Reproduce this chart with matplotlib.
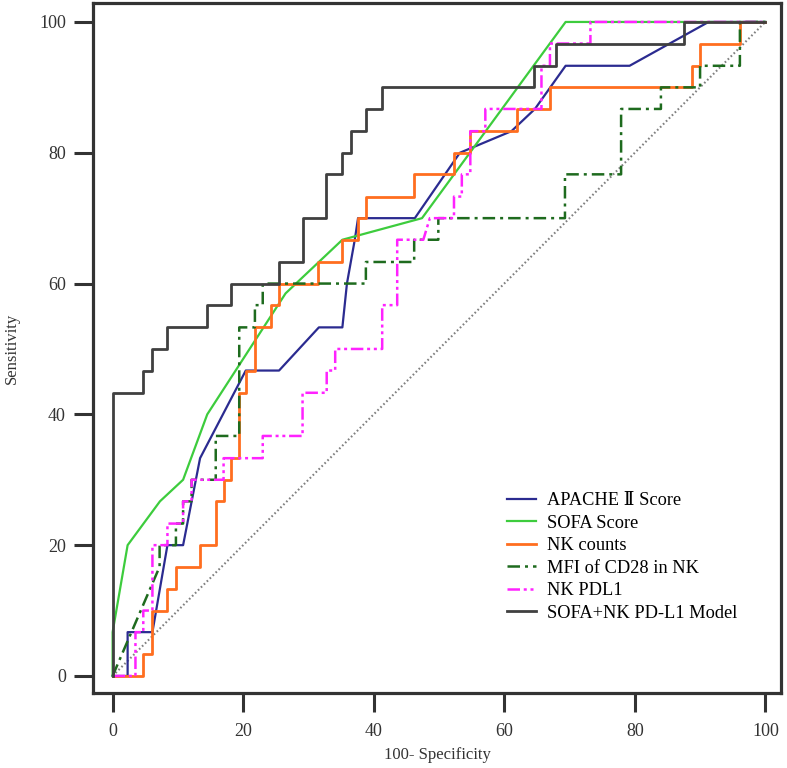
import matplotlib
matplotlib.use("Agg")
import matplotlib.pyplot as plt

plt.rcParams['font.family'] = ['Liberation Serif', 'DejaVu Serif', 'DejaVu Sans']

# ROC curves, x = 100 - specificity, y = sensitivity (vertices)
apache_x = [0, 2.3, 2.3, 6.1, 8.4, 10.8, 13.4, 20.4, 25.5, 31.6, 35.2, 35.9, 37.1, 37.6,
            46.3, 53.2, 61.1, 64.7, 69.4, 79.2, 91.3, 100]
apache_y = [0, 0, 6.7, 6.7, 20, 20, 33.3, 46.7, 46.7, 53.3, 53.3, 60, 66.7, 70,
            70, 80, 83.3, 86.7, 93.3, 93.3, 100, 100]

sofa_x = [0, 0, 2.3, 7.25, 10.8, 14.5, 26.5, 35.2, 47.4, 69.4, 100]
sofa_y = [0, 6.7, 20, 26.7, 30, 40, 58.5, 66.7, 70, 100, 100]

# step curves: (x where the jump happens, new sensitivity)
nk_x = [0, 4.7, 6.1, 8.4, 9.7, 13.4, 15.8, 17.0, 18.2, 19.4, 20.5, 21.8, 24.3, 25.5,
        31.5, 35.2, 37.6, 38.8, 46.2, 52.3, 54.8, 62.0, 67.0, 88.8, 90.0, 96.1, 100]
nk_y = [0, 3.3, 10, 13.3, 16.7, 20, 26.7, 30, 33.3, 43.3, 46.7, 53.3, 56.7, 60,
        63.3, 66.7, 70, 73.3, 76.7, 80, 83.3, 86.7, 90, 93.3, 96.7, 100, 100]

cd28_x = [0, 7.2, 7.2, 9.7, 9.7, 10.8, 10.8, 12.1, 12.1, 15.8, 15.8, 19.4, 19.4, 21.8,
          21.8, 23.0, 23.0, 38.8, 38.8, 46.2, 46.2, 49.9, 49.9, 69.3, 69.3, 77.9, 77.9,
          84.0, 84.0, 90.0, 90.0, 96.1, 96.1, 100]
cd28_y = [0, 16.7, 20, 20, 23.3, 23.3, 26.7, 26.7, 30, 30, 36.7, 36.7, 53.3, 53.3,
          56.7, 56.7, 60, 60, 63.3, 63.3, 66.7, 66.7, 70, 70, 76.7, 76.7, 86.7,
          86.7, 90, 90, 93.3, 93.3, 100, 100]

pdl1_x = [0, 3.5, 3.5, 4.7, 4.7, 6.1, 6.1, 8.4, 8.4, 10.8, 10.8, 12.1, 12.1, 17.0, 17.0,
          23.0, 23.0, 29.1, 29.1, 32.8, 32.8, 34.1, 34.1, 41.3, 41.3, 43.6, 43.6, 47.6,
          48.6, 52.3, 52.3, 53.5, 53.5, 54.8, 54.8, 57.1, 57.1, 65.7, 65.7, 67.0, 67.0,
          73.2, 73.2, 100]
pdl1_y = [0, 0, 6.7, 6.7, 10, 10, 20, 20, 23.3, 23.3, 26.7, 26.7, 30, 30, 33.3,
          33.3, 36.7, 36.7, 43.3, 43.3, 46.7, 46.7, 50, 50, 56.7, 56.7, 66.7, 66.7,
          70, 70, 73.3, 73.3, 76.7, 76.7, 83.3, 83.3, 86.7, 86.7, 93.3, 93.3, 96.7,
          96.7, 100, 100]

model_x = [0, 0, 4.7, 6.1, 8.4, 14.4, 18.2, 25.5, 29.1, 32.7, 35.2, 36.5, 38.8, 41.3,
           64.5, 68.0, 87.6, 100]
model_y = [0, 43.3, 46.7, 50, 53.3, 56.7, 60, 63.3, 70, 76.7, 80, 83.3, 86.7, 90,
           93.3, 96.7, 100, 100]

labels = ['APACHE Ⅱ Score', 'SOFA Score', 'NK counts', 'MFI of CD28 in NK',
          'NK PDL1', 'SOFA+NK PD-L1 Model']

fig = plt.figure(figsize=(7.87, 7.68), dpi=100)
ax = fig.add_axes([0.1182, 0.0977, 0.8742, 0.8984])

# reference line
ax.plot([0, 100], [0, 100], color='#808080', lw=1.5, ls=(0, (0.8, 1.2)), zorder=1)

ax.plot(apache_x, apache_y, color='#2B2B90', lw=1.6, label=labels[0])
ax.plot(sofa_x, sofa_y, color='#3DCC3D', lw=1.6, label=labels[1])
ax.plot(nk_x, nk_y, color='#FF6E1F', lw=2.0, drawstyle='steps-post', label=labels[2])
ax.plot(cd28_x, cd28_y, color='#1E6B1E', lw=1.8, ls=(0, (5, 2, 1.2, 2)), label=labels[3])
ax.plot(pdl1_x, pdl1_y, color='#FF22FF', lw=1.8, ls=(0, (5, 1.5, 1.2, 1.5, 1.2, 1.5)),
        label=labels[4])
ax.plot(model_x, model_y, color='#404040', lw=2.0, drawstyle='steps-post', label=labels[5])

ax.set_xlim(-3.0, 102.4)
ax.set_ylim(-2.6, 102.9)
ax.set_xticks([0, 20, 40, 60, 80, 100])
ax.set_yticks([0, 20, 40, 60, 80, 100])

for s in ax.spines.values():
    s.set_linewidth(2.3)
    s.set_color('#333333')
ax.tick_params(length=13.5, width=2.2, color='#333333', labelsize=13,
               labelcolor='#333333')
ax.tick_params(axis='x', pad=8)
ax.tick_params(axis='y', pad=6)

ax.set_xlabel('100- Specificity', fontsize=12, color='#333333', labelpad=5)
ax.set_ylabel('Sensitivity', fontsize=12, color='#333333', labelpad=14)

ax.legend(loc='center left', bbox_to_anchor=(0.602, 0.197), frameon=False,
          fontsize=13.2, handlelength=1.55, handletextpad=0.6, labelspacing=0.3,
          borderpad=0, borderaxespad=0)

fig.savefig('out.png', dpi=100)
